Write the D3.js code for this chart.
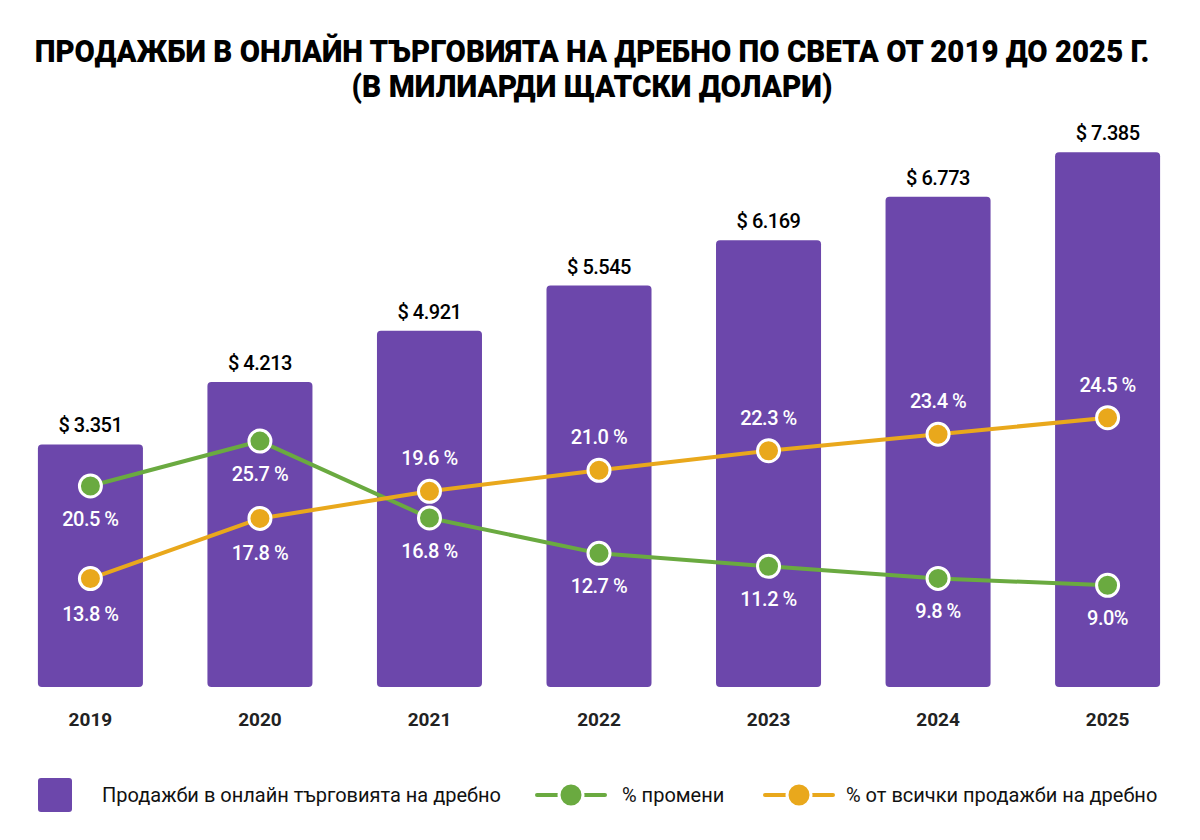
<!DOCTYPE html>
<html>
<head>
<meta charset="utf-8">
<script src="https://cdn.jsdelivr.net/npm/d3@7"></script>
<style>
  html, body { margin: 0; padding: 0; background: #ffffff; }
  svg { display: block; }
  text { font-family: Roboto, "Noto Sans", sans-serif; }
</style>
</head>
<body>
<svg id="chart" width="1200" height="840"></svg>
<script>
// ---- data ----
const years = ["2019", "2020", "2021", "2022", "2023", "2024", "2025"];
const salesValues = [3.351, 4.213, 4.921, 5.545, 6.169, 6.773, 7.385];
const salesLabels = ["$ 3.351", "$ 4.213", "$ 4.921", "$ 5.545", "$ 6.169", "$ 6.773", "$ 7.385"];
const changeValues = [20.5, 25.7, 16.8, 12.7, 11.2, 9.8, 9.0];
const changeLabels = ["20.5 %", "25.7 %", "16.8 %", "12.7 %", "11.2 %", "9.8 %", "9.0%"];
const shareValues = [13.8, 17.8, 19.6, 21.0, 22.3, 23.4, 24.5];
const shareLabels = ["13.8 %", "17.8 %", "19.6 %", "21.0 %", "22.3 %", "23.4 %", "24.5 %"];
const titleLines = ["ПРОДАЖБИ В ОНЛАЙН ТЪРГОВИЯТА НА ДРЕБНО ПО СВЕТА ОТ 2019 ДО 2025 Г.", "(В МИЛИАРДИ ЩАТСКИ ДОЛАРИ)"];
const legendLabels = ["Продажби в онлайн търговията на дребно", "% промени", "% от всички продажби на дребно"];

const PURPLE = "#6c47ab", GREEN = "#6aaa40", ORANGE = "#e9a81c";

const svg = d3.select("#chart");

// ---- title (horizontally condensed via transform) ----
function condensedTitle(txt, cxp, by, targetW) {
  const t = svg.append("text").attr("text-anchor", "middle")
    .attr("font-size", 31).attr("font-weight", 900).attr("fill", "#000").text(txt);
  const w = t.node().getComputedTextLength();
  t.attr("transform", `translate(${cxp},${by}) scale(${targetW / w},1)`);
}
condensedTitle(titleLines[0], 592, 62, 1115);
condensedTitle(titleLines[1], 592, 97, 481);

// ---- scales ----
const x = d3.scaleBand().domain(years).range([4, 1194]).paddingInner(0.3805).paddingOuter(0.2);
const y = d3.scaleLinear().domain([0, 7.5]).range([687, 144]);
const yChange = d3.scaleLinear().domain([0, 30]).range([663, 404]);
const yShare = d3.scaleLinear().domain([0, 30]).range([786, 335]);
const cx = d => x(d) + x.bandwidth() / 2;

// ---- bars ----
const g = svg.append("g");
g.selectAll("rect.bar").data(years).join("rect").attr("class", "bar")
  .attr("x", d => x(d)).attr("width", x.bandwidth())
  .attr("y", (d, i) => y(salesValues[i])).attr("height", (d, i) => y(0) - y(salesValues[i]))
  .attr("rx", 4).attr("fill", PURPLE);

g.selectAll("text.val").data(years).join("text").attr("class", "val")
  .attr("x", cx).attr("y", (d, i) => y(salesValues[i]) - 12)
  .attr("text-anchor", "middle").attr("font-size", 20).attr("font-weight", 500)
  .attr("letter-spacing", -0.5).attr("fill", "#000").text((d, i) => salesLabels[i]);

// ---- x axis ----
const xAxis = d3.axisBottom(x).tickSize(0).tickPadding(0);
const ax = svg.append("g").attr("transform", "translate(0,712)").call(xAxis);
ax.select(".domain").remove();
ax.selectAll("text").attr("font-size", 19).attr("font-weight", 700).attr("fill", "#222")
  .attr("font-family", "Roboto, sans-serif");

// ---- lines ----
function drawSeries(vals, labels, scale, color, labelOffsets) {
  const line = d3.line().x((d, i) => cx(years[i])).y(d => scale(d));
  svg.append("path").datum(vals).attr("d", line).attr("fill", "none")
    .attr("stroke", color).attr("stroke-width", 4).attr("stroke-linejoin", "round");
  svg.selectAll(null).data(vals).join("circle")
    .attr("cx", (d, i) => cx(years[i])).attr("cy", d => scale(d)).attr("r", 11)
    .attr("fill", color).attr("stroke", "#fff").attr("stroke-width", 3);
  svg.selectAll(null).data(vals).join("text")
    .attr("x", (d, i) => cx(years[i])).attr("y", (d, i) => scale(d) + labelOffsets[i])
    .attr("text-anchor", "middle").attr("dominant-baseline", "central")
    .attr("font-size", 20).attr("font-weight", 500).attr("letter-spacing", -0.5)
    .attr("fill", "#fff").text((d, i) => labels[i]);
}
drawSeries(changeValues, changeLabels, yChange, GREEN, changeValues.map(() => 33));
drawSeries(shareValues, shareLabels, yShare, ORANGE, shareValues.map((d, i) => i < 2 ? 35 : -33));

// ---- legend ----
const lg = svg.append("g");
lg.append("rect").attr("x", 38).attr("y", 778).attr("width", 34).attr("height", 34).attr("rx", 3).attr("fill", PURPLE);
lg.append("text").attr("x", 102).attr("y", 795).attr("dominant-baseline", "central")
  .attr("font-size", 20).attr("fill", "#111").text(legendLabels[0]);
[[GREEN, 537, legendLabels[1], 622], [ORANGE, 765, legendLabels[2], 846]].forEach(([c, x0, t, tx]) => {
  lg.append("line").attr("x1", x0).attr("x2", x0 + 68).attr("y1", 795).attr("y2", 795)
    .attr("stroke", c).attr("stroke-width", 4).attr("stroke-linecap", "round");
  lg.append("circle").attr("cx", x0 + 34).attr("cy", 795).attr("r", 12)
    .attr("fill", c).attr("stroke", "#fff").attr("stroke-width", 3);
  lg.append("text").attr("x", tx).attr("y", 795).attr("dominant-baseline", "central")
    .attr("font-size", 20).attr("fill", "#111").text(t);
});
</script>
</body>
</html>
